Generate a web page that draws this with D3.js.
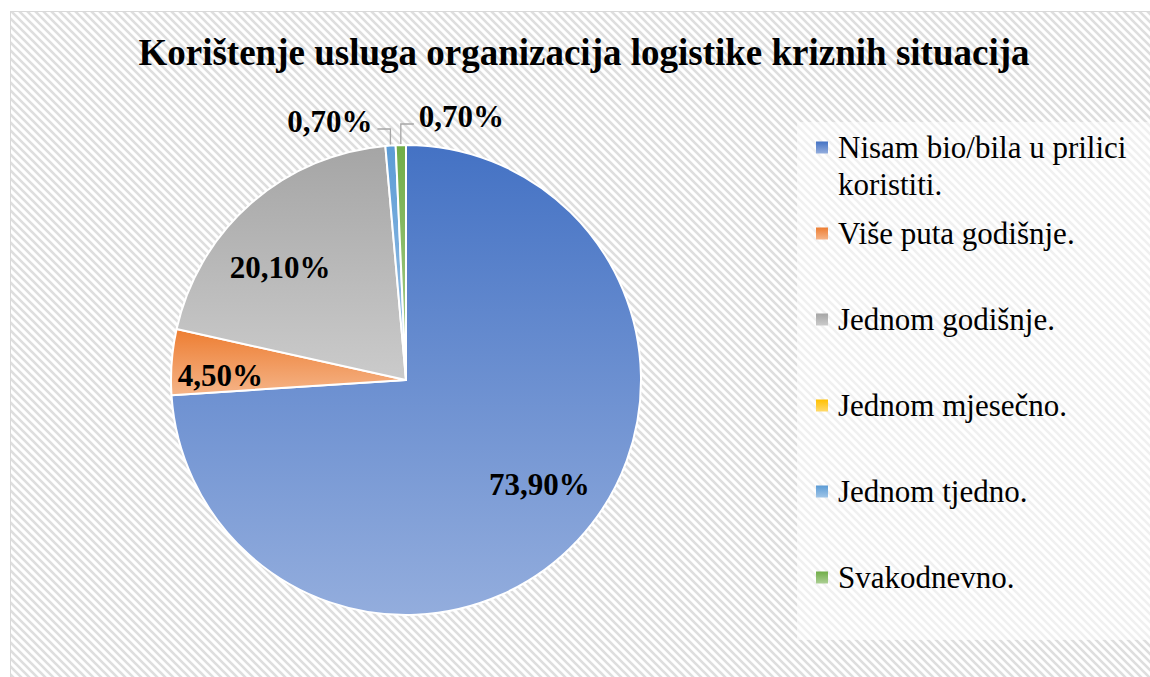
<!DOCTYPE html>
<html>
<head>
<meta charset="utf-8">
<script src="https://cdn.jsdelivr.net/npm/d3@7"></script>
<style>
  html, body { margin: 0; padding: 0; background: #ffffff; }
  svg { display: block; }
</style>
</head>
<body>
<svg id="chart" width="1150" height="677"></svg>
<script>
const title = "Korištenje usluga organizacija logistike kriznih situacija";
const categories = [
  "Nisam bio/bila u prilici koristiti.",
  "Više puta godišnje.",
  "Jednom godišnje.",
  "Jednom mjesečno.",
  "Jednom tjedno.",
  "Svakodnevno."
];
const values = [73.9, 4.5, 20.1, 0, 0.7, 0.7];
const colors = ["#4472C4", "#ED7D31", "#A5A5A5", "#FFC000", "#5B9BD5", "#70AD47"];

const W = 1150, H = 677;
const serif = "'Liberation Serif', 'Times New Roman', serif";
const svg = d3.select("#chart");
const defs = svg.append("defs");

// hatch pattern (wide downward diagonal)
const pat = defs.append("pattern").attr("id", "hatch")
  .attr("width", 8).attr("height", 8).attr("patternUnits", "userSpaceOnUse");
pat.append("rect").attr("width", 8).attr("height", 8).attr("fill", "#ffffff");
pat.append("path").attr("d", "M-1,-1 L9,9 M-1,7 L1,9 M7,-1 L9,1")
  .attr("stroke", "#dedede").attr("stroke-width", 2.6).attr("fill", "none");

// gradients per category
colors.forEach((c, i) => {
  const g = defs.append("linearGradient").attr("id", "grad" + i)
    .attr("x1", 0).attr("y1", 0).attr("x2", 0).attr("y2", 1);
  g.append("stop").attr("offset", "0%").attr("stop-color", c);
  g.append("stop").attr("offset", "100%").attr("stop-color", d3.interpolateRgb(c, "#ffffff")(0.42));
});

// chart background + border
svg.append("rect").attr("x", 10.5).attr("y", 11.5).attr("width", W).attr("height", H)
  .attr("fill", "url(#hatch)").attr("stroke", "#d9d9d9").attr("stroke-width", 1);

// legend backdrop
svg.append("rect").attr("x", 797).attr("y", 122).attr("width", W - 797).attr("height", 518)
  .attr("fill", "#ffffff").attr("opacity", 0.55);

// title
svg.append("text").attr("x", 584).attr("y", 65).attr("text-anchor", "middle")
  .attr("font-family", serif).attr("font-weight", "bold").attr("font-size", 37)
  .attr("fill", "#000").text(title);

// pie
const cx = 406, cy = 380, R = 235;
const pie = d3.pie().sort(null).value(d => d.v);
const data = pie(values.map((v, i) => ({ v, i })));
const arc = d3.arc().innerRadius(0).outerRadius(R);
const g = svg.append("g").attr("transform", `translate(${cx},${cy})`);

g.selectAll("path").data(data.filter(d => d.data.v > 0)).join("path")
  .attr("d", arc)
  .attr("fill", d => `url(#grad${d.data.i})`)
  .attr("stroke", "#ffffff").attr("stroke-width", 2).attr("stroke-linejoin", "round");

const fmt = v => d3.format(".2f")(v).replace(".", ",") + "%";
const labelG = g.append("g").attr("font-family", serif).attr("font-weight", "bold")
  .attr("font-size", 31).attr("fill", "#000");

// inside labels
data.filter(d => d.data.v >= 2).forEach(d => {
  const mid = (d.startAngle + d.endAngle) / 2;
  const share = (d.endAngle - d.startAngle) / (2 * Math.PI);
  const rr = R * (share < 0.1 ? 0.79 : 0.72);
  const a = share < 0.1 ? mid - 0.05 : (share > 0.5 ? mid - 0.09 : mid - 0.12);
  labelG.append("text")
    .attr("x", Math.sin(a) * rr).attr("y", -Math.cos(a) * rr)
    .attr("text-anchor", "middle").attr("dy", "0.35em")
    .text(fmt(d.data.v));
});

// outside labels with leader lines
const small = data.filter(d => d.data.v > 0 && d.data.v < 2);
small.forEach((d, k) => {
  const mid = (d.startAngle + d.endAngle) / 2;
  const px = Math.sin(mid) * (R + 1), py = -Math.cos(mid) * (R + 1);
  const side = k === 0 ? -1 : 1;
  const ey = -R - (k === 0 ? 16 : 21);
  const ex = px + side * 13;
  g.append("polyline")
    .attr("points", [[px, py], [px, ey], [ex, ey]].map(p => p.join(",")).join(" "))
    .attr("fill", "none").attr("stroke", "#a6a6a6").attr("stroke-width", 1.3);
  labelG.append("text")
    .attr("x", ex + side * 5).attr("y", ey + 3)
    .attr("text-anchor", side < 0 ? "end" : "start")
    .text(fmt(d.data.v));
});

// legend
const lg = svg.append("g").attr("font-family", serif).attr("font-size", 31).attr("fill", "#000");
const maxW = 305;
categories.forEach((c, i) => {
  const by = 157.5 + 86 * i;
  lg.append("rect").attr("x", 816).attr("y", by - 16).attr("width", 12).attr("height", 12)
    .attr("fill", `url(#grad${i})`);
  const t = lg.append("text").attr("x", 838).attr("y", by);
  const words = c.split(" ");
  let line = [], tspan = t.append("tspan").attr("x", 838).attr("y", by), lineNo = 0;
  words.forEach(w => {
    line.push(w);
    tspan.text(line.join(" "));
    if (tspan.node().getComputedTextLength() > maxW && line.length > 1) {
      line.pop();
      tspan.text(line.join(" "));
      line = [w];
      lineNo++;
      tspan = t.append("tspan").attr("x", 838).attr("y", by + 37 * lineNo).text(w);
    }
  });
});
</script>
</body>
</html>
